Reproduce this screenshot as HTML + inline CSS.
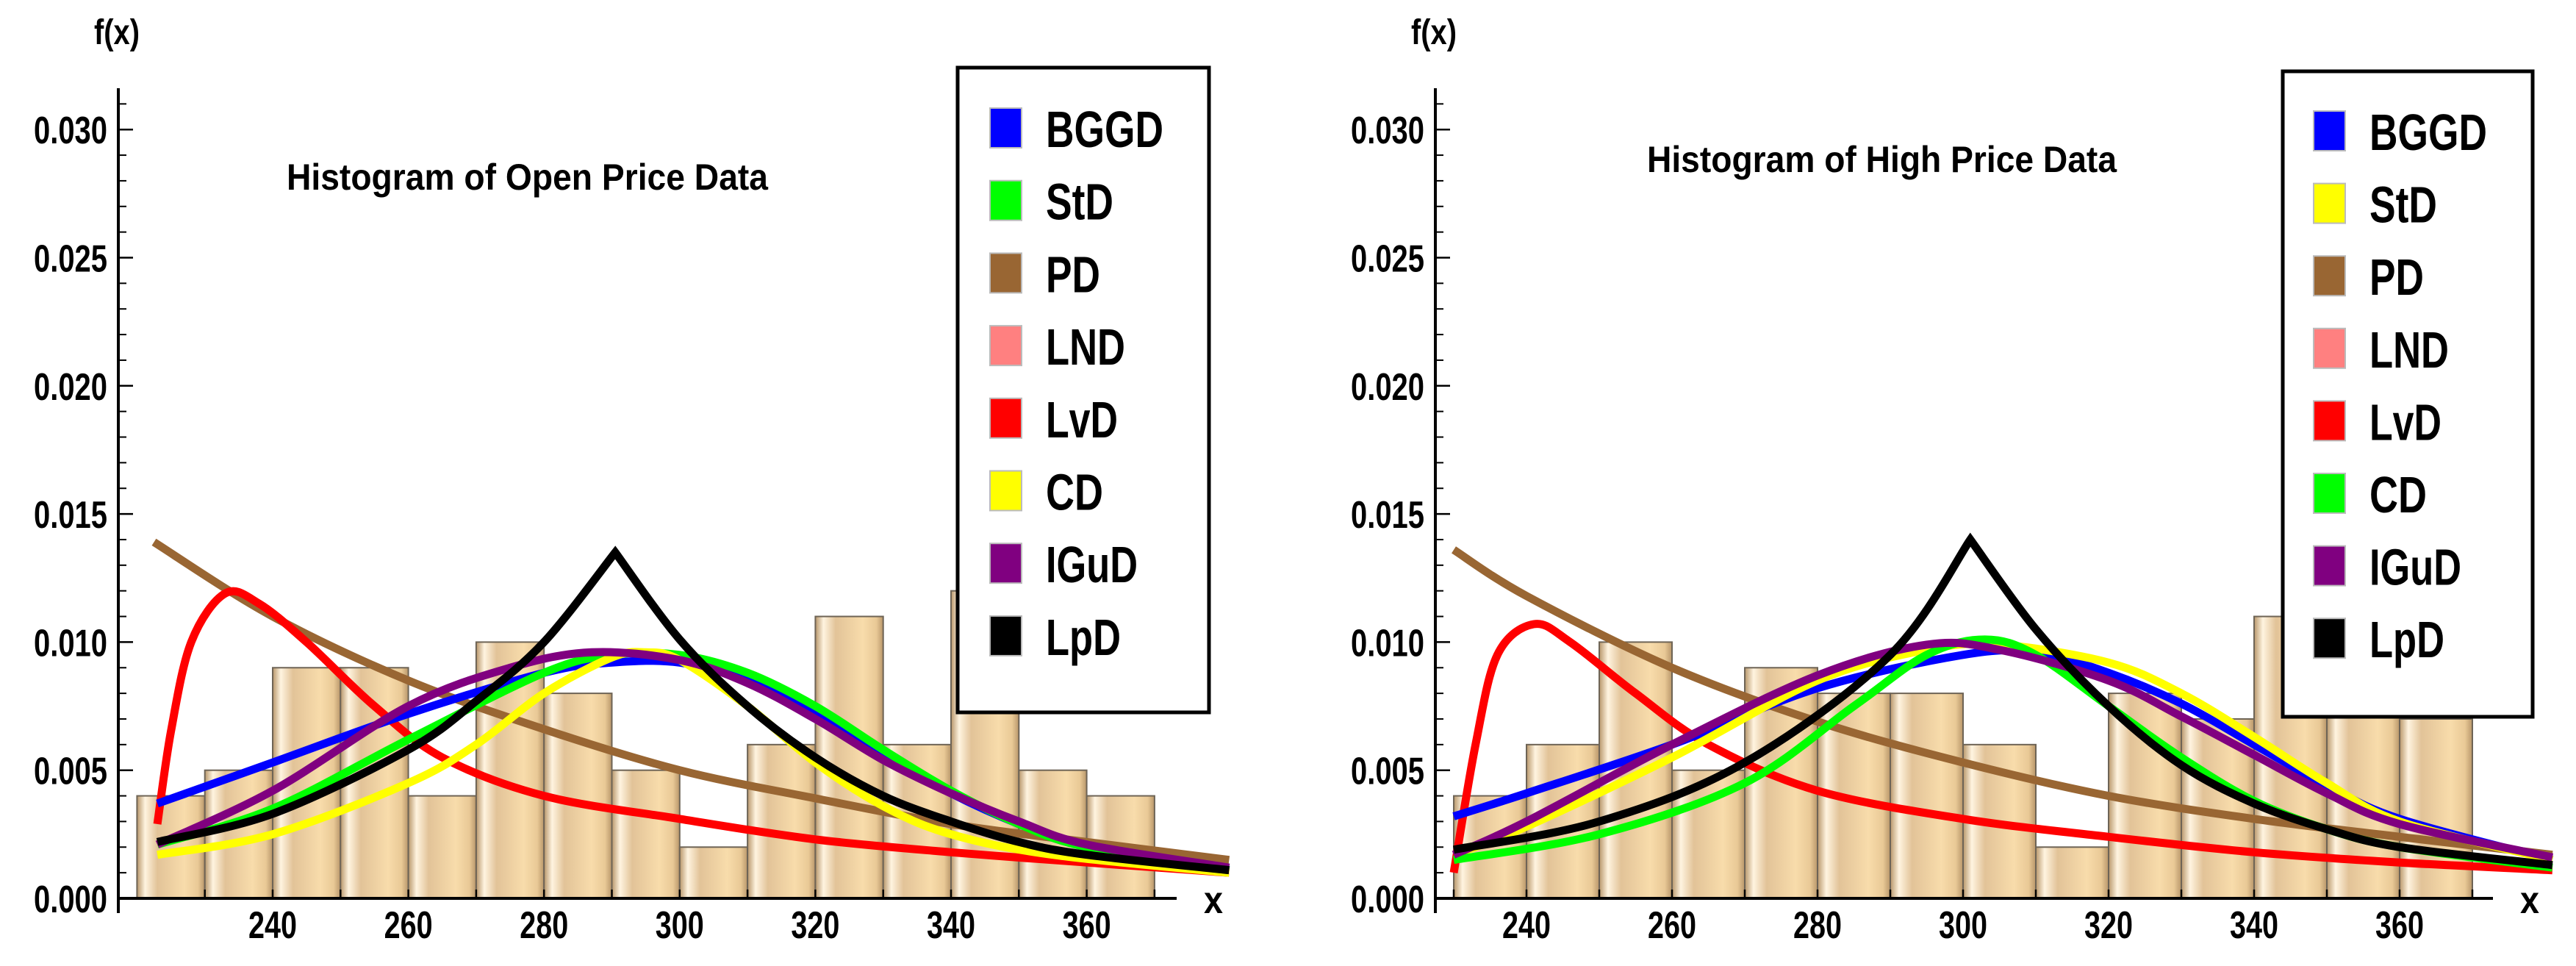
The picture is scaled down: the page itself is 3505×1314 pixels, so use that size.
<!DOCTYPE html>
<html><head><meta charset="utf-8"><style>
html,body{margin:0;padding:0;background:#fff;}
svg{display:block;}
text{font-family:"Liberation Sans",sans-serif;font-weight:bold;fill:#000;}
</style></head><body>
<svg id="svg" width="3505" height="1314" viewBox="0 0 3505 1314">
<defs>
<linearGradient id="barg" x1="0" x2="1" y1="0" y2="0">
<stop offset="0" stop-color="#b8966a"/>
<stop offset="0.12" stop-color="#fff4e0"/>
<stop offset="0.3" stop-color="#e2c398"/>
<stop offset="0.7" stop-color="#f8dcab"/>
<stop offset="0.9" stop-color="#e9c996"/>
<stop offset="1" stop-color="#b8966a"/>
</linearGradient>
</defs>
</svg>
<script>
// ---- data: Open price chart ----
const openBinStarts=[220,230,240,250,260,270,280,290,300,310,320,330,340,350,360];
const openBinValues=[0.004,0.005,0.009,0.009,0.004,0.010,0.008,0.005,0.002,0.006,0.011,0.006,0.012,0.005,0.004];
const openBGGDx=[223,240,260,280,290,300,310,320,330,340,350,360,381];
const openBGGDy=[0.0037,0.0053,0.0072,0.0088,0.0092,0.0092,0.0085,0.0072,0.0056,0.0041,0.0029,0.0020,0.0011];
const openStDx=[223,240,260,280,290,300,310,320,330,340,350,360,381];
const openStDy=[0.0021,0.0035,0.0062,0.0088,0.0095,0.0095,0.0088,0.0075,0.0058,0.0042,0.0029,0.0020,0.0011];
const openPDx=[222.5,240,260,280,300,320,340,360,381];
const openPDy=[0.0139,0.0110,0.0085,0.0066,0.0050,0.0039,0.0029,0.0022,0.0015];
const openLvDx=[223,225,228,233,238,245,255,265,280,300,320,340,360,381];
const openLvDy=[0.0029,0.0065,0.0100,0.0119,0.0115,0.0100,0.0075,0.0055,0.0040,0.0031,0.0023,0.0018,0.0014,0.0010];
const openCDx=[223,240,260,270,280,290,295,300,310,320,330,340,355,381];
const openCDy=[0.0017,0.0025,0.0045,0.0060,0.0080,0.0094,0.0096,0.0093,0.0075,0.0053,0.0036,0.0025,0.0017,0.0010];
const openIGuDx=[223,240,260,275,287,300,310,320,330,340,350,360,381];
const openIGuDy=[0.0021,0.0042,0.0075,0.0090,0.0096,0.0093,0.0084,0.0070,0.0054,0.0041,0.0030,0.0021,0.0012];
const openLpDx=[223,240,260,270,280,290.5,300,310,320,330,340,350,360,381];
const openLpDy=[0.0022,0.0033,0.0058,0.0077,0.0100,0.0135,0.0101,0.0075,0.0055,0.0040,0.0030,0.0022,0.0017,0.0011];
// ---- data: High price chart ----
const highBinStarts=[230,240,250,260,270,280,290,300,310,320,330,340,350,360];
const highBinValues=[0.004,0.006,0.010,0.005,0.009,0.008,0.008,0.006,0.002,0.008,0.007,0.011,0.009,0.007];
const highBGGDx=[230,240,260,280,300,310,320,330,340,350,360,381];
const highBGGDy=[0.0032,0.0041,0.0060,0.0082,0.0095,0.0096,0.0088,0.0076,0.0060,0.0044,0.0031,0.0015];
const highStDx=[230,240,260,280,295,305,320,330,340,350,360,381];
const highStDy=[0.0017,0.0028,0.0055,0.0085,0.0097,0.0099,0.0092,0.0080,0.0063,0.0045,0.0030,0.0015];
const highPDx=[230,240,260,280,300,320,340,360,381];
const highPDy=[0.0136,0.0118,0.0090,0.0069,0.0053,0.0040,0.0031,0.0024,0.0017];
const highLvDx=[230,233,236,241,246,255,265,280,300,320,340,360,381];
const highLvDy=[0.0010,0.0060,0.0095,0.0107,0.0100,0.0080,0.0060,0.0042,0.0031,0.0024,0.0018,0.0014,0.0011];
const highCDx=[230,250,270,285,295,303,310,320,330,340,350,360,381];
const highCDy=[0.0015,0.0025,0.0045,0.0075,0.0095,0.0101,0.0095,0.0075,0.0055,0.0038,0.0027,0.0020,0.0012];
const highIGuDx=[230,240,260,280,295,305,320,330,340,350,360,381];
const highIGuDy=[0.0017,0.0030,0.0060,0.0087,0.0099,0.0097,0.0085,0.0071,0.0056,0.0041,0.0029,0.0016];
const highLpDx=[230,250,270,290,301,310,320,330,340,350,360,381];
const highLpDy=[0.0019,0.0030,0.0053,0.0095,0.0140,0.0105,0.0075,0.0052,0.0037,0.0027,0.0020,0.0013];
const yTickValues=[0.000,0.005,0.010,0.015,0.020,0.025,0.030];
const yTickLabels=["0.000","0.005","0.010","0.015","0.020","0.025","0.030"];
const xTickValues=[240,260,280,300,320,340,360];
const xTickLabels=["240","260","280","300","320","340","360"];
const openLegendNames=["BGGD","StD","PD","LND","LvD","CD","IGuD","LpD"];
const openLegendColors=["#0000ff","#00ff00","#996633","#ff8080","#ff0000","#ffff00","#800080","#000000"];
const highLegendNames=["BGGD","StD","PD","LND","LvD","CD","IGuD","LpD"];
const highLegendColors=["#0000ff","#ffff00","#996633","#ff8080","#ff0000","#00ff00","#800080","#000000"];

const NS="http://www.w3.org/2000/svg";
const svg=document.getElementById('svg');
function mk(tag,attrs,parent){const e=document.createElementNS(NS,tag);for(const k in attrs)e.setAttribute(k,attrs[k]);(parent||svg).appendChild(e);return e;}
function txt(s,x,y,size,len,anchor,parent){const t=mk('text',{x:x,y:y,'font-size':size,'text-anchor':anchor||'start',textLength:len,lengthAdjust:'spacingAndGlyphs'},parent);t.textContent=s;return t;}
function smoothSeg(pts,move){let d=(move?'M':'L')+pts[0][0].toFixed(1)+','+pts[0][1].toFixed(1);
 for(let i=0;i<pts.length-1;i++){const p0=pts[Math.max(0,i-1)],p1=pts[i],p2=pts[i+1],p3=pts[Math.min(pts.length-1,i+2)];
  const c1=[p1[0]+(p2[0]-p0[0])/6,p1[1]+(p2[1]-p0[1])/6],c2=[p2[0]-(p3[0]-p1[0])/6,p2[1]-(p3[1]-p1[1])/6];
  d+=' C'+c1[0].toFixed(1)+','+c1[1].toFixed(1)+' '+c2[0].toFixed(1)+','+c2[1].toFixed(1)+' '+p2[0].toFixed(1)+','+p2[1].toFixed(1);}
 return d;}
function smooth(pts,cusp){
 if(!cusp)return smoothSeg(pts,true);
 let m=0;for(let i=1;i<pts.length;i++)if(pts[i][1]<pts[m][1])m=i;
 return smoothSeg(pts.slice(0,m+1),true)+' '+smoothSeg(pts.slice(m),false);}

function chart(cfg){
 const g=mk('g',{});
 
 
 const X=v=>cfg.x0+(v-240)*cfg.kx;
 const Y=v=>1222-v/0.005*174.3;
 for(let i=0;i<cfg.bins.length;i++){
  const r=mk('rect',{x:X(cfg.bins[i]),y:Y(cfg.vals[i]),width:X(cfg.bins[i]+10)-X(cfg.bins[i]),height:Y(0)-Y(cfg.vals[i]),fill:'url(#barg)',stroke:'#6e6456','stroke-width':2},g);
  
  
 }
 const ya=mk('line',{x1:cfg.ax,y1:120,x2:cfg.ax,y2:1242,stroke:'#000','stroke-width':4},g);
 
 
 const xa=mk('line',{x1:cfg.ax,y1:Y(0),x2:cfg.xend,y2:Y(0),stroke:'#000','stroke-width':4},g);
 
 
 for(let k=0;k<=31;k++){const v=k*0.001,maj=(k%5===0);
  mk('line',{x1:cfg.ax,y1:Y(v),x2:cfg.ax+(maj?20:11),y2:Y(v),stroke:'#000','stroke-width':maj?2.5:2},g);}
 for(let i=0;i<yTickValues.length;i++){const t=txt(yTickLabels[i],cfg.ax-15,Y(yTickValues[i])+19,52,100,'end',g);
  
  }
 for(let v=cfg.tickStart;v<=370;v+=10){mk('line',{x1:X(v),y1:Y(0),x2:X(v),y2:Y(0)-12,stroke:'#000','stroke-width':2.5},g);}
 for(let i=0;i<xTickValues.length;i++){const t=txt(xTickLabels[i],X(xTickValues[i]),1276,52,66,'middle',g);
  
  }
 const xl=txt('x',cfg.xend+50,1242,52,26,'middle',g);
 
 
 const fl=txt('f(x)',cfg.ax-2,60,48,62,'middle',g);
 
 
 const ti=txt(cfg.title,cfg.tx,cfg.ty,50,cfg.tw,'start',g);
 
 
 for(const s of cfg.series){
  const pts=s.xs.map((x,i)=>[X(x),Y(s.ys[i])]);
  const p=mk('path',{d:smooth(pts,s.key==='LpD'),fill:'none',stroke:s.color,'stroke-width':11,'stroke-linejoin':'miter','stroke-miterlimit':10},g);
  
  
 }
 const lg=mk('g',{},g);
 
 
 mk('rect',{x:cfg.lx,y:cfg.ly,width:cfg.lw,height:cfg.lh,fill:'#fff',stroke:'#000','stroke-width':5},lg);
 for(let i=0;i<cfg.lnames.length;i++){const cy=cfg.ly0+i*cfg.lstep;
  const e=mk('g',{},lg);
  
  
  mk('rect',{x:cfg.sx,y:cy-27,width:43,height:54,fill:cfg.lcolors[i],stroke:'#bbb','stroke-width':2},e);
  const w={BGGD:160,StD:92,PD:74,LND:108,LvD:98,CD:78,IGuD:125,LpD:102}[cfg.lnames[i]];
  txt(cfg.lnames[i],cfg.sx+76,cy+26,70,w,'start',e);
 }
}
function series(pre,colors){
 const all={open:{BGGD:[openBGGDx,openBGGDy],StD:[openStDx,openStDy],PD:[openPDx,openPDy],LvD:[openLvDx,openLvDy],CD:[openCDx,openCDy],IGuD:[openIGuDx,openIGuDy],LpD:[openLpDx,openLpDy]},
  high:{BGGD:[highBGGDx,highBGGDy],StD:[highStDx,highStDy],PD:[highPDx,highPDy],LvD:[highLvDx,highLvDy],CD:[highCDx,highCDy],IGuD:[highIGuDx,highIGuDy],LpD:[highLpDx,highLpDy]}}[pre];
 const order=["PD","LvD","BGGD","StD","CD","IGuD","LpD"];
 return order.map(k=>({key:k,xs:all[k][0],ys:all[k][1],color:colors[k]}));}
chart({name:'open-price-chart',x0:371,kx:9.23,ax:161,xend:1601,tickStart:230,bins:openBinStarts,vals:openBinValues,
 title:'Histogram of Open Price Data',tx:390,ty:258,tw:655,
 series:series('open',{BGGD:'#0000ff',StD:'#00ff00',PD:'#996633',LvD:'#ff0000',CD:'#ffff00',IGuD:'#800080',LpD:'#000000'}),
 lx:1303,ly:92,lw:342,lh:877,sx:1347,ly0:174,lstep:98.7,lnames:openLegendNames,lcolors:openLegendColors});
chart({name:'high-price-chart',x0:2077,kx:9.9,ax:1953,xend:3392,tickStart:230,bins:highBinStarts,vals:highBinValues,
 title:'Histogram of High Price Data',tx:2241,ty:234,tw:639,
 series:series('high',{BGGD:'#0000ff',StD:'#ffff00',PD:'#996633',LvD:'#ff0000',CD:'#00ff00',IGuD:'#800080',LpD:'#000000'}),
 lx:3106,ly:97,lw:340,lh:878,sx:3148,ly0:178,lstep:98.6,lnames:highLegendNames,lcolors:highLegendColors});
</script>
</body></html>
